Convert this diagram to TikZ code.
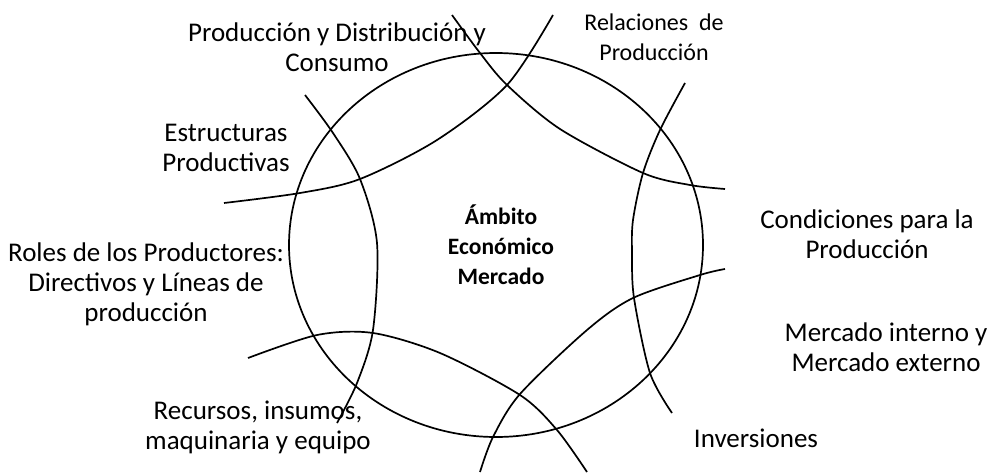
\documentclass[tikz,border=0pt]{standalone}
\usepackage{fontspec}
\setmainfont{Carlito}

\begin{document}
\begin{tikzpicture}[x=1pt,y=-1pt,
                    txt/.style={align=center,font=\fontsize{27}{30}\selectfont},
                    petal/.style={line width=1.7pt}]
  \useasboundingbox (0,0) rectangle (990,472);
  % centre
  \draw[petal] (496,245) ellipse [x radius=207, y radius=192];
  \node[align=center,font=\fontsize{23.5}{30}\selectfont\bfseries] (ambito) at (501,245) {Ámbito\\Económico\\Mercado};
  % arcs round the centre
  \draw[petal] plot[smooth] coordinates {(224,203) (300,193) (360,179) (437,140) (507,85) (553,15)};
  \draw[petal] plot[smooth] coordinates {(452,15) (480,53) (507,85) (560,129) (643,173) (690,185) (725,189)};
  \draw[petal] plot[smooth] coordinates {(685,83) (660,130) (643,173) (633,220) (632,253) (634,298) (650,373) (672,413)};
  \draw[petal] plot[smooth] coordinates {(725,269) (700,275) (633,298) (587,330) (520,394) (493,437) (480,472)};
  \draw[petal] plot[smooth] coordinates {(248,358) (317,335) (373,333) (440,353) (520,395) (557,430) (587,472)};
  \draw[petal] plot[smooth] coordinates {(305,95) (333,133) (360,179) (377,243) (373,330) (357,383) (337,423)};
  % labels
  \node[txt] (prod)  at (337,47)  {Producción y Distribución y\\Consumo};
  \node[txt,font=\fontsize{24}{30}\selectfont] (rel) at (654,37) {Relaciones\ \ de\\Producción};
  \node[txt] (estr)  at (226,148) {Estructuras\\Productivas};
  \node[txt] (cond)  at (867,234) {Condiciones para la\\Producción};
  \node[txt] (roles) at (146,284) {Roles de los Productores:\\Directivos y Líneas de\\producción};
  \node[txt] (merc)  at (886,347) {Mercado interno y\\Mercado externo};
  \node[txt] (recur) at (258,427) {Recursos, insumos,\\maquinaria y equipo};
  \node[txt] (inv)   at (756,438) {Inversiones};
\end{tikzpicture}
\end{document}
